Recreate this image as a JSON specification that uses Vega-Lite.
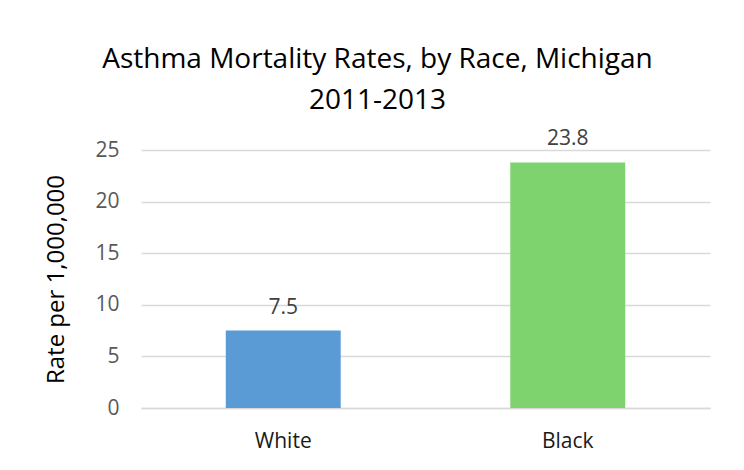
{
  "$schema": "https://vega.github.io/schema/vega-lite/v6.json",
  "autosize": "none",
  "width": 569,
  "height": 258,
  "padding": {"left": 141, "top": 150, "right": 34, "bottom": 62},
  "background": "white",
  "title": {
    "text": ["Asthma Mortality Rates, by Race, Michigan", "2011-2013"],
    "font": "Open Sans",
    "fontSize": 28,
    "fontWeight": "normal",
    "color": "#000000",
    "lineHeight": 41,
    "anchor": "middle",
    "frame": "bounds",
    "offset": 13
  },
  "data": {
    "values": [
      {"race": "White", "rate": 7.5},
      {"race": "Black", "rate": 23.8}
    ]
  },
  "encoding": {
    "x": {
      "field": "race",
      "type": "nominal",
      "sort": null,
      "scale": {"paddingInner": 0.596, "paddingOuter": 0.298},
      "axis": {
        "title": null,
        "labelAngle": 0,
        "labelFont": "Open Sans",
        "labelFontSize": 21,
        "labelColor": "#1a1a1a",
        "ticks": false,
        "labelPadding": 22,
        "domainColor": "#d9d9d9",
        "domainWidth": 1.5
      }
    },
    "y": {
      "field": "rate",
      "type": "quantitative",
      "scale": {"domain": [0, 25]},
      "axis": {
        "title": "Rate per 1,000,000",
        "titleFont": "Open Sans",
        "titleFontSize": 24,
        "titleFontWeight": "normal",
        "titleColor": "#000000",
        "titlePadding": 26,
        "values": [0, 5, 10, 15, 20, 25],
        "labelFont": "Open Sans",
        "labelFontSize": 21,
        "labelColor": "#595959",
        "labelPadding": 22,
        "ticks": false,
        "domain": false,
        "gridColor": "#d9d9d9",
        "gridWidth": 1.5
      }
    }
  },
  "layer": [
    {
      "mark": {"type": "bar"},
      "encoding": {
        "color": {
          "field": "race",
          "type": "nominal",
          "scale": {"domain": ["White", "Black"], "range": ["#5B9BD5", "#7FD36E"]},
          "legend": null
        }
      }
    },
    {
      "mark": {"type": "text", "baseline": "alphabetic", "dy": -17, "font": "Open Sans", "fontSize": 21, "color": "#404040"},
      "encoding": {
        "text": {"field": "rate", "type": "quantitative", "format": ".1f"}
      }
    }
  ],
  "config": {
    "view": {"stroke": null}
  }
}
